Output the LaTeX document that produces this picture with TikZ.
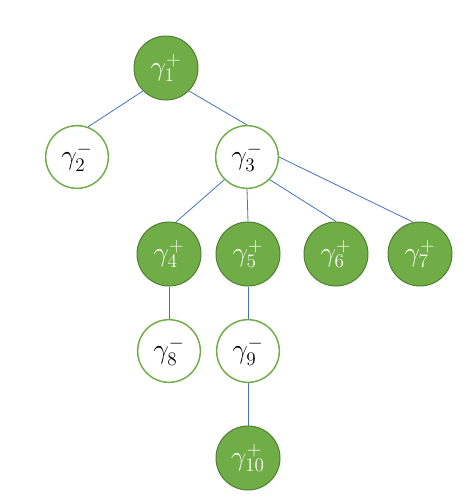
\documentclass[tikz,border=0pt]{standalone}
\definecolor{plusfill}{HTML}{70AD47}
\definecolor{plusline}{HTML}{507E32}
\definecolor{link}{HTML}{4472C4}
\begin{document}
\begin{tikzpicture}[x=0.75pt,y=-0.75pt,
  plus/.style={circle,draw=plusline,fill=plusfill,text=white,line width=0.75pt,
    minimum size=48pt,inner sep=0pt,font=\fontsize{22}{26}\selectfont},
  minus/.style={circle,draw=plusfill,fill=white,text=black,line width=1.1pt,
    minimum size=47pt,inner sep=0pt,font=\fontsize{22}{26}\selectfont},
  link/.style={draw=link,line width=0.6pt}]
  \useasboundingbox (0,0) rectangle (472,500);
  \node[plus] (g1) at (166,68) {\(\gamma_1^+\)};
  \node[minus] (g2) at (77,157) {\(\gamma_2^-\)};
  \node[minus] (g3) at (247,157) {\(\gamma_3^-\)};
  \node[plus] (g4) at (169,254) {\(\gamma_4^+\)};
  \node[plus] (g5) at (248,254) {\(\gamma_5^+\)};
  \node[plus] (g6) at (336,254) {\(\gamma_6^+\)};
  \node[plus] (g7) at (420,254) {\(\gamma_7^+\)};
  \node[minus] (g8) at (169,351) {\(\gamma_8^-\)};
  \node[minus] (g9) at (248,351) {\(\gamma_9^-\)};
  \node[plus] (g10) at (248,458) {\(\gamma_{10}^+\)};
  \draw [link] (g1.225) -- (g2.70);
  \draw [link] (g1.315) -- (g3.north);
  \draw [link] (g3.225) -- (g4.78);
  \draw [link] (g3.south) -- (g5.north);
  \draw [link] (g3.315) -- (g6.north);
  \draw [link] (g3.east) -- (g7.102);
  \draw [link] (g4.south) -- (g8.north);
  \draw [link] (g5.south) -- (g9.north);
  \draw [link] (g9.south) -- (g10.north);
\end{tikzpicture}
\end{document}
